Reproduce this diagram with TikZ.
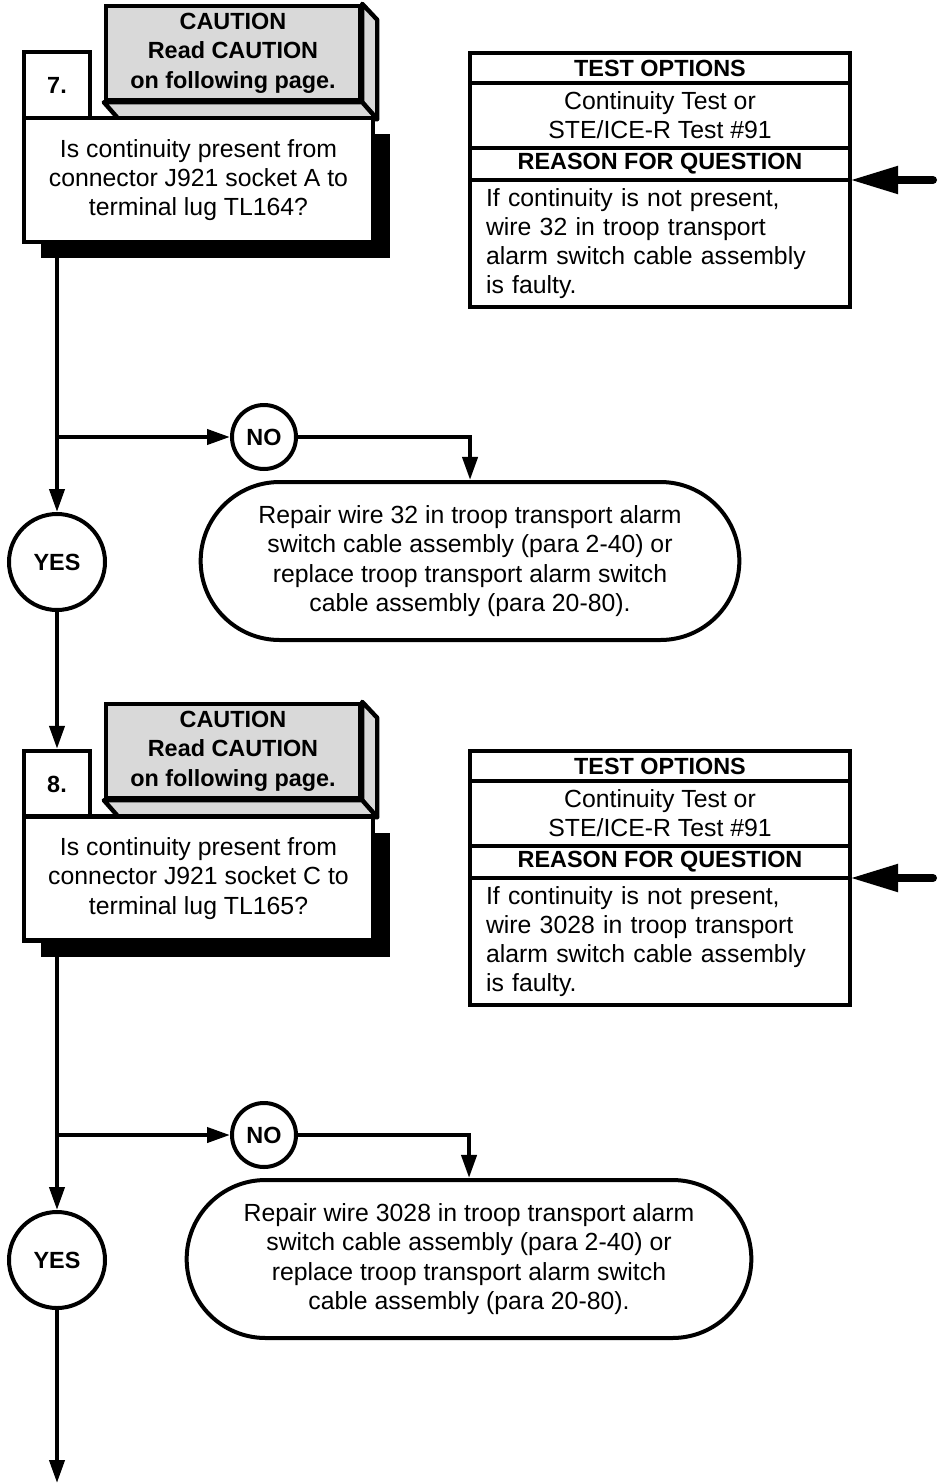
\documentclass[tikz,border=0pt]{standalone}
\usepackage{fontspec}
\setmainfont{Liberation Sans}
\usetikzlibrary{positioning,arrows.meta,shapes.misc,shadows}
\newcommand\txt{\fontsize{12.4}{14.6}\selectfont}
\newcommand\btxt{\fontsize{11.7}{14.8}\selectfont\bfseries}
\tikzset{
  every node/.style={font=\txt},
  ln/.style={line width=2pt},
  arr/.style={ln,-{Triangle[length=11.5pt,width=7.5pt]}},
  bigarr/.style={line width=4pt,line cap=round,-{Triangle[length=24pt,width=13pt]}},
  numbox/.style={draw,line width=2.2pt,fill=white,minimum width=33pt,minimum height=33pt,font=\btxt},
  caubox/.style={draw,line width=2.2pt,fill=black!15,minimum width=127pt,minimum height=47pt,align=center,font=\btxt},
  qbox/.style={draw,line width=2.2pt,fill=white,minimum width=174.5pt,minimum height=62pt,align=center,
    drop shadow={shadow xshift=8.5pt,shadow yshift=-8pt,opacity=1,fill=black}},
  yesno/.style={draw,circle,ln,fill=white,inner sep=0pt,font=\btxt},
  repbox/.style={draw,rounded rectangle,ln,fill=white,minimum height=79pt,align=center},
  tbox/.style={draw,ln,minimum width=190pt,outer sep=0pt,inner sep=0pt,align=center},
  thead/.style={tbox,font=\btxt},
}
\begin{document}
\begin{tikzpicture}[x=0.5pt,y=-0.5pt]
\useasboundingbox (0,0) rectangle (940,1483);
% step 7
\node[numbox] (n7) at (57,85) {7.};
\node[caubox] (c7) at (233,53) {CAUTION\\Read CAUTION\\on following page.};
\filldraw[fill=black!15,line width=2.2pt,line join=round] (c7.north east) -- ([shift={(15,16)}]c7.north east) -- ([shift={(15,17)}]c7.south east) -- (c7.south east) -- cycle;
\filldraw[fill=black!15,line width=2.2pt,line join=round] (c7.south west) -- ([shift={(15,17)}]c7.south west) -- ([shift={(15,17)}]c7.south east) -- (c7.south east) -- cycle;
\node[qbox] (q7) at (198.5,180) {Is continuity present from\\connector J921 socket A to\\terminal lug TL164?};
\node[thead,minimum height=15pt] (t7a) at (660,68) {TEST OPTIONS};
\node[tbox,minimum height=32.5pt,below=0pt of t7a] (t7b) {Continuity Test or\\STE/ICE-R Test \#91};
\node[thead,minimum height=16pt,below=0pt of t7b] (t7c) {REASON FOR QUESTION};
\node[tbox,minimum height=63.5pt,align=left,inner xsep=8pt,text width=174pt,below=0pt of t7c] (t7d) {If continuity is not present,\\wire 32 in troop transport\\alarm switch cable assembly\\is faulty.};
\coordinate (e7) at (933,180);
\draw[bigarr] (e7) -- (t7c.south east);
\node[yesno,minimum size=32pt] (no7) at (264,437) {NO};
\node[yesno,minimum size=48pt] (yes7) at (57,562) {YES};
\node[repbox,minimum width=276pt] (r7) at (470,561) {Repair wire 32 in troop transport alarm\\switch cable assembly (para 2-40) or\\replace troop transport alarm switch\\cable assembly (para 20-80).};
\coordinate (b7) at (57,437);
\draw[arr] (q7.south -| yes7) -- (yes7);
\draw[arr] (b7) -- (no7);
\draw[arr] (no7) -| (r7);
% step 8
\node[numbox] (n8) at (57,784) {8.};
\draw[arr] (yes7) -- (n8);
\node[caubox] (c8) at (233,751) {CAUTION\\Read CAUTION\\on following page.};
\filldraw[fill=black!15,line width=2.2pt,line join=round] (c8.north east) -- ([shift={(15,16)}]c8.north east) -- ([shift={(15,17)}]c8.south east) -- (c8.south east) -- cycle;
\filldraw[fill=black!15,line width=2.2pt,line join=round] (c8.south west) -- ([shift={(15,17)}]c8.south west) -- ([shift={(15,17)}]c8.south east) -- (c8.south east) -- cycle;
\node[qbox] (q8) at (198.5,878.5) {Is continuity present from\\connector J921 socket C to\\terminal lug TL165?};
\node[thead,minimum height=15pt] (t8a) at (660,766) {TEST OPTIONS};
\node[tbox,minimum height=32.5pt,below=0pt of t8a] (t8b) {Continuity Test or\\STE/ICE-R Test \#91};
\node[thead,minimum height=16pt,below=0pt of t8b] (t8c) {REASON FOR QUESTION};
\node[tbox,minimum height=63.5pt,align=left,inner xsep=8pt,text width=174pt,below=0pt of t8c] (t8d) {If continuity is not present,\\wire 3028 in troop transport\\alarm switch cable assembly\\is faulty.};
\coordinate (e8) at (933,878);
\draw[bigarr] (e8) -- (t8c.south east);
\node[yesno,minimum size=32pt] (no8) at (264,1135) {NO};
\node[yesno,minimum size=48pt] (yes8) at (57,1260) {YES};
\node[repbox,minimum width=289pt] (r8) at (469,1259) {Repair wire 3028 in troop transport alarm\\switch cable assembly (para 2-40) or\\replace troop transport alarm switch\\cable assembly (para 20-80).};
\coordinate (b8) at (57,1135);
\coordinate (end) at (57,1483);
\draw[arr] (q8.south -| yes8) -- (yes8);
\draw[arr] (b8) -- (no8);
\draw[arr] (no8) -| (r8);
\draw[arr] (yes8) -- (end);
\end{tikzpicture}
\end{document}
